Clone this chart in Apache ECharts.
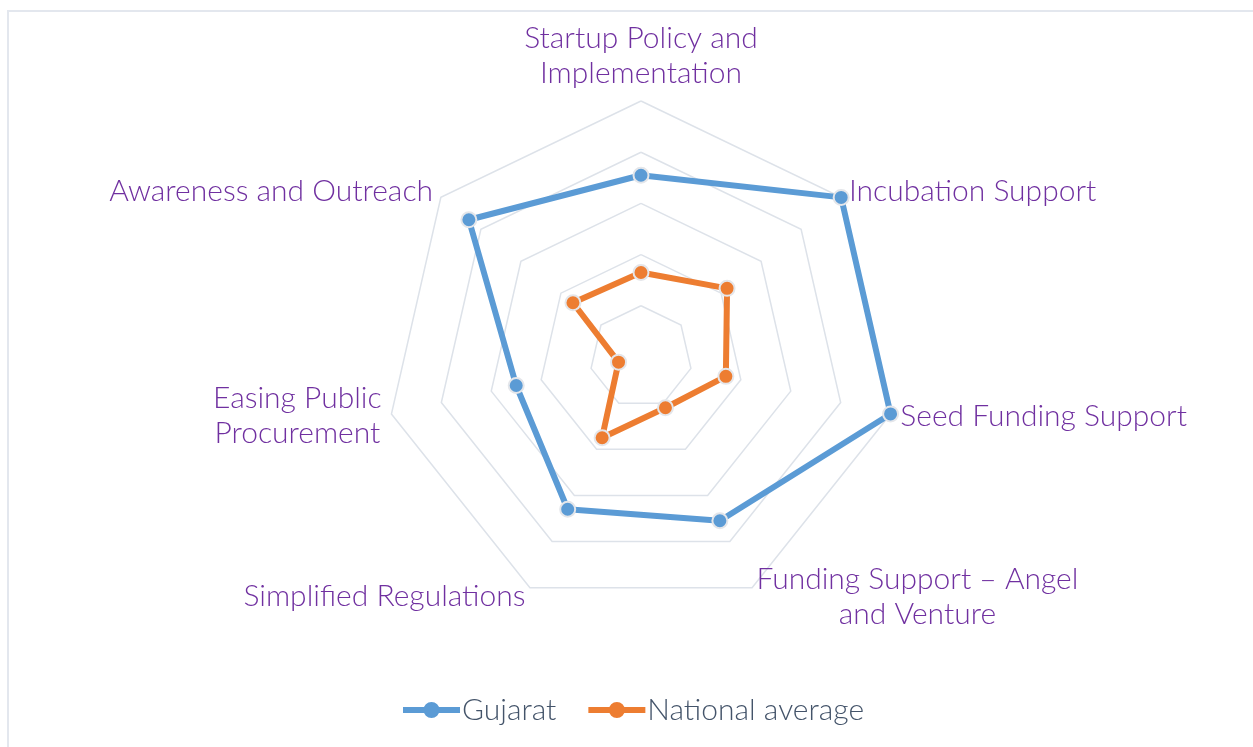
<!DOCTYPE html>
<html lang="en">
<head>
    <meta charset="UTF-8">
    <title>Gujarat startup radar</title>
    <script src="https://cdn.jsdelivr.net/npm/echarts@6/dist/echarts.min.js"></script>
    <style>
        body { margin: 0; background: #fff; }
        #frame { position: absolute; left: 7px; top: 10px; width: 1250px; height: 740px;
                 border-top: 2px solid #e3e7ee; border-left: 2px solid #e3e7ee; }
        #myChart { position: absolute; left: 0; top: 0; width: 1253px; height: 747px; }
    </style>
</head>
<body>
<div id="frame"></div>
<div id="myChart"></div>

<script>
    // pillars of the ranking, clockwise from the top
    var pillars = ['Startup Policy and\nImplementation', 'Incubation Support', 'Seed Funding Support',
        'Funding Support \u2013 Angel\nand Venture', 'Simplified Regulations',
        'Easing Public\nProcurement', 'Awareness and Outreach'];
    var gujarat = [71, 100, 100, 71, 66, 50, 86];
    var nationalAvg = [33, 43, 34, 22, 35, 9, 34];
    var seriesNames = ['Gujarat', 'National average'];

    // echarts goes round counter-clockwise, so flip the order (first one stays on top)
    function cw(arr) {
        return [arr[0]].concat(arr.slice(1).reverse());
    }

    var labelFont = 'Lato';
    var fs = 30;
    var purple = '#7030a0';
    // legend icon: line with a dot in the middle
    var lineDot = 'path://M0,5 L57,5 L57,11 L0,11 Z M36.5,8 A8,8 0 1,1 20.5,8 A8,8 0 1,1 36.5,8 Z';

    var myChart = echarts.init(document.getElementById('myChart'));

    var option = {
        color: ['#5b9bd5', '#ed7d31'],
        legend: {
            bottom: 17,
            left: 398,
            itemWidth: 57,
            itemHeight: 16,
            itemGap: 32,
            icon: lineDot,
            itemStyle: { borderWidth: 0 },
            textStyle: { color: '#44546a', fontSize: fs, fontWeight: 300, fontFamily: labelFont, padding: [0, 0, 0, -3] },
            data: seriesNames
        },
        radar: {
            center: [641, 357],
            radius: 256,
            shape: 'polygon',
            splitNumber: 5,
            startAngle: 90,
            indicator: cw(pillars).map(function (p) { return { name: p, min: 0, max: 100 }; }),
            axisName: {
                color: purple,
                fontSize: fs,
                fontWeight: 300,
                fontFamily: labelFont,
                lineHeight: 35,
                formatter: function (name) {
                    if (name.indexOf('\n') < 0) return name;
                    return name.split('\n').map(function (l) { return '{c|' + l + '}'; }).join('\n');
                },
                rich: {
                    c: { align: 'center', color: purple, fontSize: fs, fontWeight: 300, fontFamily: labelFont, lineHeight: 35 }
                }
            },
            nameGap: 10,
            axisLine: { show: false },
            axisTick: { show: false },
            axisLabel: { show: false },
            splitArea: { show: false },
            splitLine: { lineStyle: { color: '#dde2e9', width: 1.5 } }
        },
        series: [{
            type: 'radar',
            symbol: 'circle',
            symbolSize: 15,
            lineStyle: { width: 6 },
            itemStyle: { borderColor: '#e4e6ea', borderWidth: 2 },
            data: [
                {
                    name: seriesNames[0], value: cw(gujarat),
                    lineStyle: { width: 6, color: '#5b9bd5' },
                    itemStyle: { color: '#5b9bd5' }
                },
                {
                    name: seriesNames[1], value: cw(nationalAvg),
                    lineStyle: { width: 6, color: '#ed7d31' },
                    itemStyle: { color: '#ed7d31' }
                }
            ]
        }]
    };

    myChart.setOption(option);
</script>
</body>
</html>
